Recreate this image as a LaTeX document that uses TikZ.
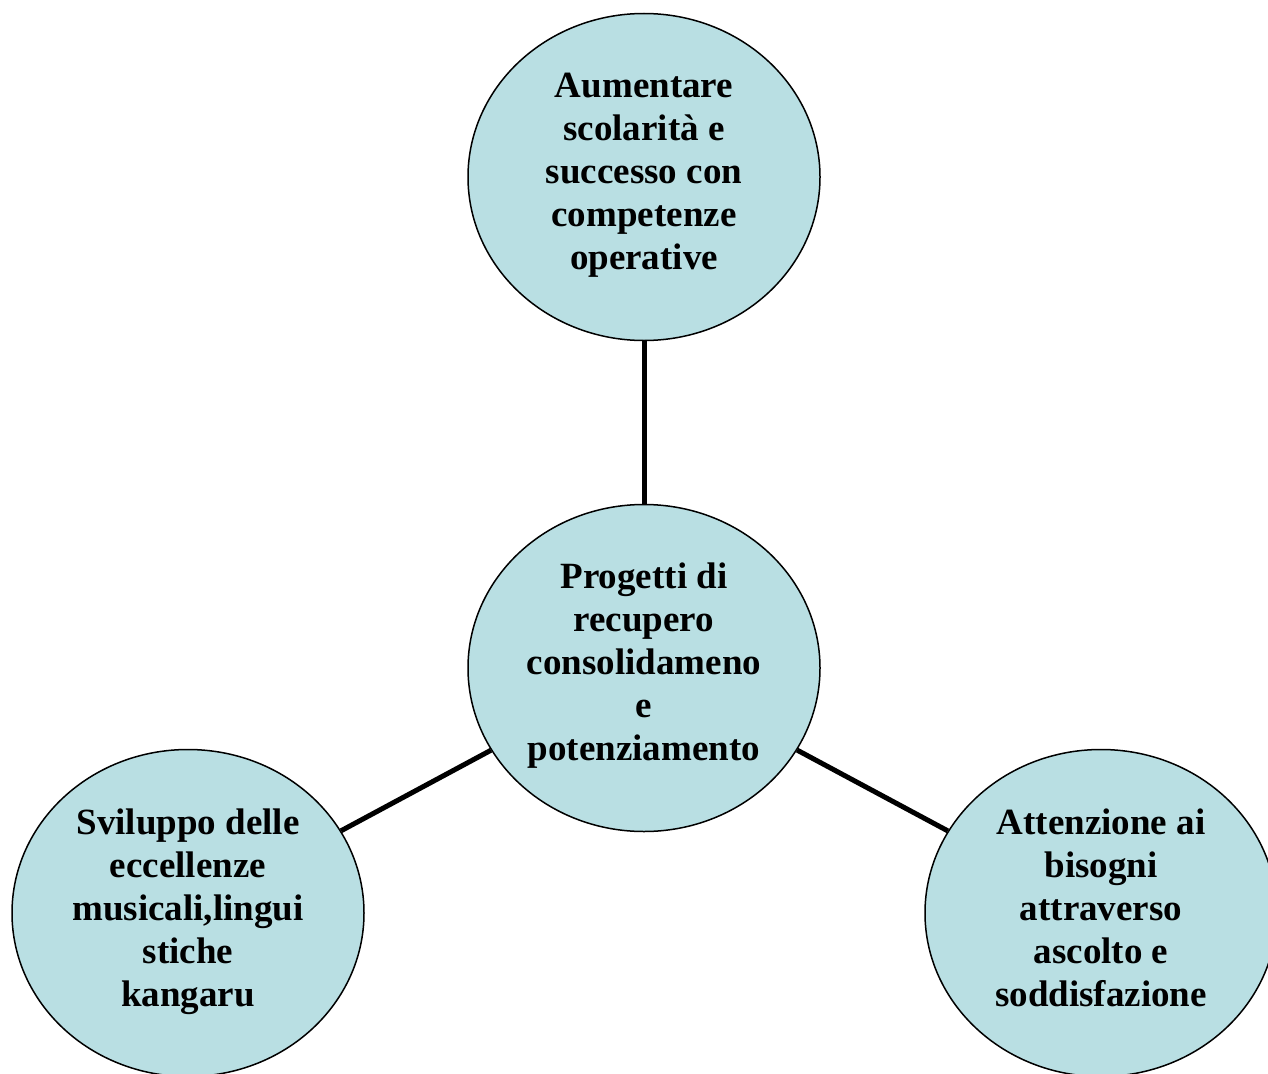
\documentclass[tikz,border=0pt]{standalone}
\usepackage{fontspec}
\setmainfont{Liberation Serif}
\usetikzlibrary{shapes.geometric}
\definecolor{bubble}{HTML}{B9DFE3}
\begin{document}
\begin{tikzpicture}[x=1pt,y=-1pt,
  bubble/.style={ellipse, draw=black, line width=1.5pt, fill=bubble,
    minimum width=352pt, minimum height=327pt, inner sep=0pt},
  caption/.style={align=center, inner sep=0pt,
    font=\fontsize{37}{43}\selectfont\bfseries},
  link/.style={line width=5pt, black}]
  \path[use as bounding box, clip] (0,0) rectangle (1268,1073);
  \node[bubble, label={[caption, yshift=2pt]center:{Aumentare\\scolarità e\\successo con\\competenze\\operative}}] (top) at (644,177) {};
  \node[bubble, label={[caption, yshift=2pt]center:{Progetti di\\recupero\\consolidameno\\e\\potenziamento}}] (mid) at (644,668) {};
  \node[bubble, label={[caption, yshift=1pt]center:{Sviluppo delle\\eccellenze\\musicali,lingui\\stiche\\kangaru}}] (left) at (188,913) {};
  \node[bubble, label={[caption, yshift=5pt]center:{Attenzione ai\\bisogni\\attraverso\\ascolto e\\soddisfazione}}] (right) at (1101,913) {};
  \draw[link] (top) -- (mid);
  \draw[link] (mid) -- (left);
  \draw[link] (mid) -- (right);
\end{tikzpicture}
\end{document}
